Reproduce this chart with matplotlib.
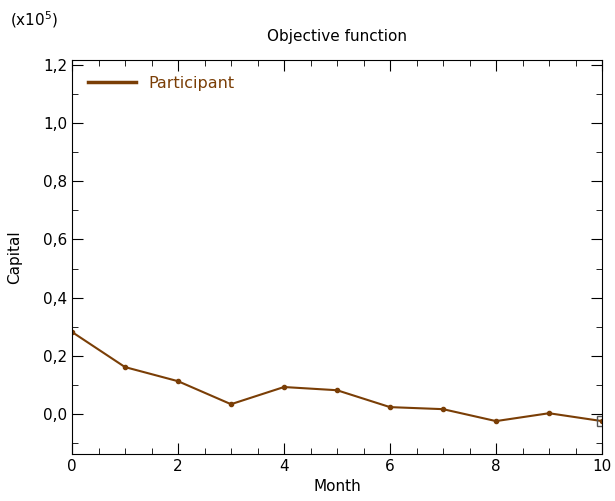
import matplotlib
matplotlib.use("Agg")
import matplotlib.pyplot as plt
from matplotlib.ticker import MultipleLocator, FuncFormatter
from matplotlib.lines import Line2D

months = [0, 1, 2, 3, 4, 5, 6, 7, 8, 9, 10]
capital = [0.282, 0.1615, 0.113, 0.034, 0.093, 0.082, 0.024, 0.017, -0.024, 0.003, -0.024]  # x1e5
series_name = "Participant"
color = "#7a3e06"


def comma_fmt(v, pos):
    if abs(v) < 1e-9:
        v = 0.0
    return f"{v:.1f}".replace(".", ",")


fig = plt.figure(figsize=(6.15, 5.01), dpi=100)
ax = fig.add_axes([72/615, 1 - 454/501, (602-72)/615, (454-60)/501])

ax.plot(months, capital, color=color, lw=1.5, marker="o", ms=3)
ax.plot(months[-1], capital[-1], marker="s", ms=7, mfc="none", mec="#555555", mew=1, ls="none")

ax.set_xlim(0, 10)
ax.set_ylim(-0.137, 1.216)
ax.xaxis.set_major_locator(MultipleLocator(2))
ax.xaxis.set_minor_locator(MultipleLocator(0.5))
ax.yaxis.set_major_locator(MultipleLocator(0.2))
ax.yaxis.set_minor_locator(MultipleLocator(0.1))
ax.yaxis.set_major_formatter(FuncFormatter(comma_fmt))
ax.tick_params(which="both", direction="in", top=True, right=True, labelsize=11)
ax.tick_params(which="major", length=8)
ax.tick_params(which="minor", length=4)

ax.set_xlabel("Month", fontsize=11, labelpad=4)
ax.set_ylabel("Capital", fontsize=11)
ax.yaxis.set_label_coords(-50/530, 0.5)
ax.set_title("Objective function", fontsize=11, pad=14)
fig.text(10/615, 1 - 20/501, r"(x10$^5$)", fontsize=11, va="center", ha="left")

handle = Line2D([], [], color=color, lw=2.5)
leg = ax.legend([handle], [series_name], loc="upper left", frameon=False,
                fontsize=11.5, handlelength=3.0, handletextpad=0.8,
                borderaxespad=0.7, borderpad=0.3)
for t in leg.get_texts():
    t.set_color(color)

fig.savefig("out.png", dpi=100)
